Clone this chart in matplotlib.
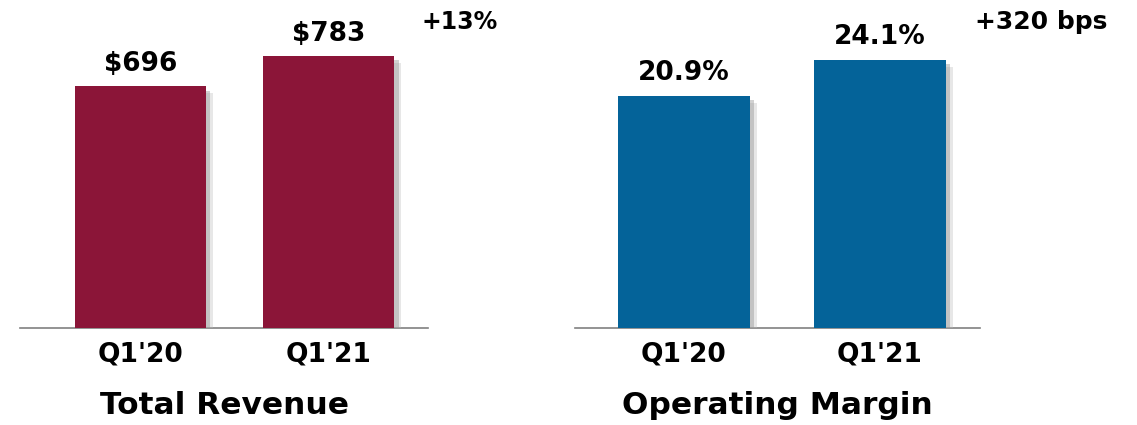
import matplotlib
matplotlib.use("Agg")
import matplotlib.pyplot as plt
import matplotlib.patheffects as pe

# データ
quarters = ["Q1'20", "Q1'21"]
revenue = [696, 783]
revenue_labels = ["$696", "$783"]
margin = [20.9, 24.1]
margin_labels = ["20.9%", "24.1%"]
revenue_change = "+13%"
margin_change = "+320 bps"

plt.rcParams["font.family"] = ["DejaVu Sans"]
plt.rcParams["font.weight"] = "bold"

fig = plt.figure(figsize=(11.37, 4.25), dpi=100)

# ぼかし風の影 (数枚重ねる)
shadow = [pe.SimplePatchShadow(offset=(5, -5), shadow_rgbFace="#bbbbbb", alpha=0.35),
          pe.SimplePatchShadow(offset=(3, -3), shadow_rgbFace="#999999", alpha=0.45),
          pe.Normal()]


def draw_panel(ax, values, labels, color, width, ylim_top, title, xlim):
    x = range(len(values))
    bars = ax.bar(x, values, width=width, color=color, zorder=3)
    for b in bars:
        b.set_path_effects(shadow)
    for xi, v, lab in zip(x, values, labels):
        ax.annotate(lab, (xi, v), xytext=(0, 7), textcoords="offset points",
                    ha="center", va="bottom", fontsize=19, fontweight="bold")
    ax.set_xlim(*xlim)
    ax.set_ylim(0, ylim_top)
    ax.set_xticks(list(x))
    ax.set_xticklabels(quarters, fontsize=19, fontweight="bold")
    ax.tick_params(axis="x", length=0, pad=10)
    ax.set_yticks([])
    for s in ["top", "left", "right"]:
        ax.spines[s].set_visible(False)
    ax.spines["bottom"].set_color("#808080")
    ax.spines["bottom"].set_linewidth(1.2)
    ax.set_xlabel(title, fontsize=22.5, fontweight="bold", labelpad=17)
    return ax


ax1 = fig.add_axes([20 / 1137, 97 / 425, 408 / 1137, 328 / 425])
draw_panel(ax1, revenue, revenue_labels, "#8B1538", 0.70, 945, "Total Revenue",
           (-0.641, 1.529))
fig.text(460 / 1137, 1 - 22 / 425, revenue_change, ha="center", va="center",
         fontsize=17, fontweight="bold")

ax2 = fig.add_axes([575 / 1137, 97 / 425, 405 / 1137, 328 / 425])
draw_panel(ax2, margin, margin_labels, "#046399", 0.675, 29.5, "Operating Margin",
           (-0.556, 1.51))
fig.text(1041 / 1137, 1 - 22 / 425, margin_change, ha="center", va="center",
         fontsize=18, fontweight="bold")

fig.savefig("out.png", dpi=100)
